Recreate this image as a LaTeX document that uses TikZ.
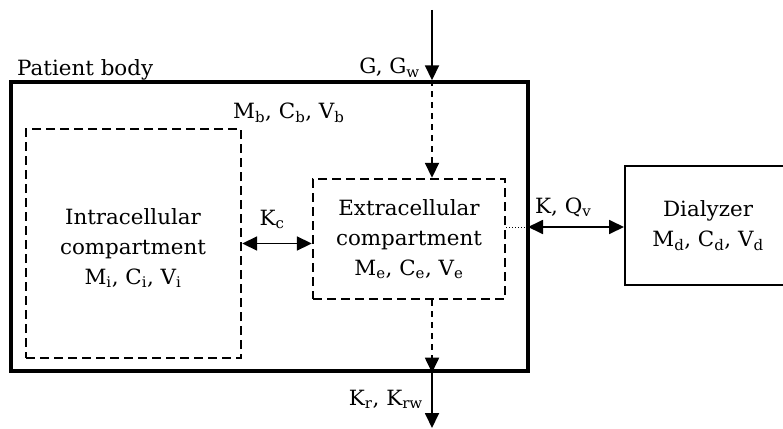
\documentclass[tikz,border=0pt]{standalone}
\usepackage{fontspec}
\setmainfont{DejaVu Serif}
\usetikzlibrary{arrows.meta}
\newcommand{\sx}[1]{\scalebox{1.02}[1]{#1}}
\tikzset{
  mytri/.tip={Triangle[length=15pt,width=14pt]},
  lbl/.style={font=\fontsize{21}{30}\selectfont, inner sep=0pt, align=center},
  bodybox/.style={draw, line width=3.4pt, inner sep=0pt},
  compbox/.style={draw, line width=2.4pt, dash pattern=on 9pt off 5pt, inner sep=0pt, lbl},
  dialbox/.style={draw, line width=2pt, inner sep=0pt, lbl},
  flow/.style={line width=1.8pt, -mytri},
  dflow/.style={flow, dash pattern=on 6pt off 5pt},
  biflow/.style={line width=1.8pt, mytri-mytri},
  dotlink/.style={line width=1pt, dotted},
}
\begin{document}
\begin{tikzpicture}[x=1pt,y=-1pt]
\clip (0,0) rectangle (783,428);
% boxes
\node[bodybox, minimum width=517pt, minimum height=289pt] (body) at (269.5,226.5) {};
\node[compbox, minimum width=215pt, minimum height=229pt] (intra) at (133.5,243.5) {};
\node[lbl] (intratext) at (133,248)
  {\sx{Intracellular}\\\sx{compartment}\\\sx{M\textsubscript{i}, C\textsubscript{i}, V\textsubscript{i}}};
\node[compbox, minimum width=192pt, minimum height=120pt] (ext) at (409,239)
  {\sx{Extracellular}\\\sx{compartment}\\\sx{M\textsubscript{e}, C\textsubscript{e}, V\textsubscript{e}}};
\node[dialbox, minimum width=166pt, minimum height=119pt] (dial) at (708,225.5)
  {\sx{Dialyzer}\\\sx{M\textsubscript{d}, C\textsubscript{d}, V\textsubscript{d}}};
% labels
\node[lbl, anchor=base west] (pb) at (17,75) {\sx{Patient body}};
\node[lbl, anchor=base east] (glab) at (420,74) {\sx{G, G\textsubscript{w}}};
\node[lbl, anchor=base west] (mb) at (233,118) {\sx{M\textsubscript{b}, C\textsubscript{b}, V\textsubscript{b}}};
\node[lbl, anchor=base] (kc) at (272,225) {\sx{K\textsubscript{c}}};
\node[lbl, anchor=base west] (kq) at (535,213) {\sx{K, Q\textsubscript{v}}};
\node[lbl, anchor=base east] (kr) at (423,405) {\sx{K\textsubscript{r}, K\textsubscript{rw}}};
% connector points
\coordinate (top) at (432,10);
\coordinate (bot) at (432,428);
\coordinate (port) at (528,227);
% vertical flows
\draw[flow] (top) -- (top |- body.north);
\draw[dflow] (top |- body.north) -- (top |- ext.north);
\draw[dflow] (top |- ext.south) -- (top |- body.south);
\draw[flow] (top |- body.south) -- (bot);
% horizontal exchanges
\draw[biflow] (intra.east) -- (ext.west |- intra.east);
\draw[dotlink] (ext.east |- port) -- (port);
\draw[biflow] (port) -- (dial.west |- port);
\end{tikzpicture}
\end{document}
